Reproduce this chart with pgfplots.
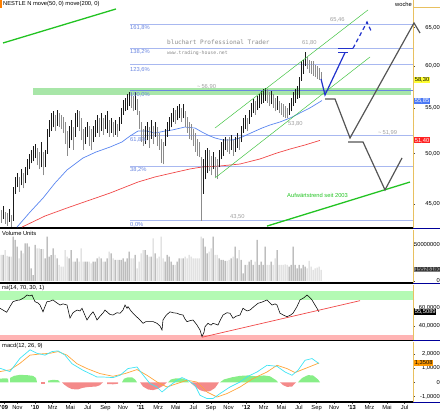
\documentclass[border=0pt]{standalone}
\usepackage{fontspec}
\setmainfont{Liberation Sans}
\newfontfamily\monofont{DejaVu Sans Mono}
\usepackage{pgfplots}
\usepackage{pgfplotstable}
\pgfplotsset{compat=1.18}
\definecolor{fibline}{HTML}{A8B8F0}
\definecolor{fibmain}{HTML}{6A86E0}
\definecolor{fibtext}{HTML}{6A86E0}
\definecolor{bandgreen}{HTML}{A8E6A8}
\definecolor{ma50}{HTML}{5A86F0}
\definecolor{ma200}{HTML}{F04848}
\definecolor{trendgreen}{HTML}{22C322}
\definecolor{chan}{HTML}{44C444}
\definecolor{fcblue}{HTML}{2233CC}
\definecolor{fcgray}{HTML}{555555}
\definecolor{annot}{HTML}{A0A0A0}
\definecolor{axyellow}{HTML}{E8C060}
\definecolor{barblack}{HTML}{1A1A1A}
\definecolor{bargray}{HTML}{8C8C8C}
\definecolor{voldark}{HTML}{9A9A9A}
\definecolor{vollight}{HTML}{D2D2D2}
\definecolor{rsigreen}{HTML}{B4FAB4}
\definecolor{rsired}{HTML}{FFB4B4}
\definecolor{macdcyan}{HTML}{40E4F4}
\definecolor{macdorange}{HTML}{FFA53A}
\definecolor{histgreen}{HTML}{88EE88}
\definecolor{histred}{HTML}{F48A8A}
\definecolor{tagyellow}{HTML}{FFFF33}
\definecolor{tagblue}{HTML}{4A78F5}
\definecolor{tagred}{HTML}{FF2222}
\definecolor{tagorange}{HTML}{FF9900}
\newcommand{\fs}{\fontsize{5.8}{6.5}\selectfont}

\pgfplotstableread{
x l h v c
1 43.3 44.5 36.1 0
3 43.6 44.8 36.1 1
5 43.2 44.3 43.0 0
7 43.0 44.2 35.0 0
9 43.4 44.6 33.8 1
11 42.9 44.0 33.8 0
13 43.5 46.6 61.6 1
15 46.0 47.6 57.0 1
17 46.6 48.0 47.7 1
19 46.2 47.6 31.5 0
21 46.8 48.4 42.0 1
23 46.5 48.0 38.4 0
25 47.0 48.6 52.3 1
27 47.8 49.4 52.3 1
29 48.4 50.0 47.7 1
31 49.0 50.4 17.6 1
33 49.2 50.8 8.3 1
35 49.5 51.0 50.0 1
37 48.8 50.6 45.4 0
39 48.4 50.2 45.4 0
41 48.6 51.2 44.4 1
43 47.8 50.2 44.4 0
45 48.6 50.4 31.5 1
47 50.0 52.6 61.6 1
49 51.8 53.6 33.8 1
51 52.4 54.4 36.0 1
53 52.8 54.6 45.4 1
55 52.4 54.2 36.1 0
57 53.0 54.8 31.5 1
59 52.8 54.4 22.2 0
61 52.6 54.2 19.9 0
63 52.2 54.0 19.9 0
65 51.0 53.4 43.0 0
67 49.8 52.4 33.8 0
69 50.6 53.0 31.5 1
71 51.4 53.6 43.0 1
73 50.4 52.8 26.9 0
75 51.8 54.4 26.9 1
77 52.8 54.8 31.5 1
79 52.4 54.6 26.9 0
81 51.4 53.8 45.4 0
83 50.4 52.6 26.9 0
85 51.0 52.8 26.9 1
87 51.8 53.4 26.9 1
89 50.8 53.0 26.9 0
91 50.4 52.6 24.5 0
93 51.2 53.0 26.9 1
95 51.8 53.6 26.9 1
97 52.2 54.2 31.5 1
99 51.8 53.8 33.8 0
101 52.4 54.4 31.5 1
103 52.0 53.8 26.9 0
105 52.6 54.2 26.9 1
107 52.2 54.6 31.5 1
109 51.8 53.6 40.7 0
111 52.2 53.8 38.4 1
113 51.8 53.4 31.5 0
115 52.0 53.6 29.2 1
117 51.8 53.2 29.2 0
119 52.4 54.0 29.2 1
121 53.2 55.0 29.2 1
123 54.2 55.9 31.5 1
125 54.6 56.2 26.9 1
127 54.8 56.6 31.5 1
129 55.2 56.9 40.7 1
131 55.0 56.7 31.5 0
133 54.6 56.4 31.5 0
135 54.8 56.8 36.1 1
137 54.2 56.0 17.6 0
139 52.6 54.6 26.9 0
141 51.2 53.4 38.4 0
143 50.8 52.6 43.0 0
145 51.0 53.0 43.0 1
147 51.4 53.4 36.1 1
149 50.6 52.8 33.8 0
151 51.6 53.6 33.8 1
153 51.0 53.0 59.3 0
155 51.8 53.4 38.4 1
157 50.8 52.8 31.5 0
159 50.4 52.2 33.8 0
161 49.0 51.6 61.6 0
163 48.9 51.2 31.5 0
165 50.8 52.6 26.9 1
167 51.8 53.4 36.1 1
169 52.4 54.0 33.8 1
171 52.8 54.4 26.9 1
173 53.4 55.0 22.2 1
175 53.2 54.8 22.2 0
177 53.6 55.2 26.9 1
179 53.8 55.4 31.5 1
181 53.4 55.0 31.5 0
183 53.8 55.4 31.5 1
185 52.8 54.6 33.8 0
187 52.2 54.0 31.5 0
189 51.6 53.4 36.1 0
191 51.4 53.2 33.8 0
193 50.8 52.6 31.5 0
195 50.2 52.2 31.5 0
197 49.8 51.6 31.5 0
199 49.6 51.2 31.5 0
201 43.5 49.6 61.6 0
203 46.0 49.4 59.3 1
205 47.4 50.4 47.7 1
207 48.0 50.6 38.4 1
209 48.2 50.4 40.7 0
211 47.8 49.8 45.4 0
213 48.4 50.2 61.6 1
215 47.6 49.6 36.1 0
217 47.4 49.4 36.1 0
219 48.6 50.4 31.5 1
221 49.4 51.2 29.2 1
223 49.8 51.6 29.2 1
225 50.4 51.8 27.8 1
227 50.2 51.6 27.8 0
229 50.0 51.8 29.2 0
231 50.4 52.0 31.5 1
233 49.8 51.4 33.8 0
235 50.2 51.8 47.7 1
237 50.6 52.2 31.5 1
239 50.4 51.8 43.0 0
241 51.2 53.0 29.2 1
243 52.2 53.8 10.6 1
245 52.6 54.2 22.2 1
247 52.4 53.8 22.2 0
249 53.2 54.8 26.9 1
251 54.0 55.6 29.2 1
253 54.4 56.0 22.2 1
255 54.2 55.8 26.9 0
257 54.8 56.4 57.0 1
259 55.0 56.6 22.2 1
261 55.4 57.0 26.9 1
263 55.6 57.2 22.2 1
265 55.8 57.3 47.7 1
267 55.6 57.2 22.2 0
269 55.2 56.8 22.2 0
271 55.4 57.0 26.9 1
273 55.0 56.6 22.2 0
275 54.6 56.2 31.5 0
277 54.8 56.4 43.0 1
279 54.4 55.8 22.2 0
281 54.2 55.6 22.2 0
283 54.0 55.4 22.2 0
285 53.9 55.2 23.1 0
287 53.8 55.0 22.2 0
289 54.2 55.6 19.9 1
291 54.6 56.2 22.2 1
293 55.2 56.8 47.7 1
295 55.6 57.2 22.2 1
297 56.0 57.6 17.6 1
299 56.2 58.6 22.2 1
301 58.2 60.6 17.6 1
303 59.0 60.8 22.2 1
305 60.0 61.8 19.9 1
307 59.6 61.2 17.6 0
309 59.2 60.8 27.8 0
311 59.0 60.6 19.9 0
313 58.8 60.6 15.3 0
315 58.6 60.2 17.6 0
317 58.4 60.0 18.5 0
319 58.3 59.8 19.9 0
321 58.0 59.3 15.5 0
}\pricetable

\begin{document}
\begin{tikzpicture}
\useasboundingbox (0,0) rectangle (440bp,411bp);
\pgfplotsset{panel/.style={
  anchor=south west, scale only axis, width=413bp, xmin=0, xmax=413,
  axis x line*=bottom, axis y line*=right,
  x axis line style={black, line width=1.2bp},
  y axis line style={axyellow, line width=0.8bp},
  xtick=\empty, clip=false,
  tick align=outside, major tick length=2bp, minor tick length=1.2bp,
  every tick/.style={black!70, line width=0.4bp},
  yticklabel style={font=\fs, anchor=east, inner sep=0pt, xshift=25bp},
  scaled y ticks=false,
}}
\tikzset{lab/.style={font=\fs, inner sep=0pt, anchor=west}}

% ---------------- price panel ----------------
\begin{axis}[panel, at={(0bp,183bp)}, height=228bp, ymode=log, ymin=42.83, ymax=68.86,
  ytick={45,50,55,60,65}, yticklabels={{45,00},{50,00},{55,00},{60,00},{65,00}},
  minor ytick={44,46,47,48,49,51,52,53,54,56,57,58,59,61,62,63,64,66,67,68}]
\addplot[fill=bandgreen, draw=none] coordinates {(33,56.5) (411,56.5) (411,57.35) (33,57.35)};
\addplot[fibline, line width=0.7bp] coordinates {(130,65.46) (413,65.46)};
\addplot[fibline, line width=0.7bp] coordinates {(130,62.25) (413,62.25)};
\addplot[fibline, line width=0.7bp] coordinates {(130,60.27) (413,60.27)};
\addplot[fibmain, line width=0.7bp] coordinates {(130,57.07) (413,57.07)};
\addplot[fibline, line width=0.7bp] coordinates {(130,51.89) (413,51.89)};
\addplot[fibline, line width=0.7bp] coordinates {(130,48.68) (413,48.68)};
\addplot[fibline, line width=0.7bp] coordinates {(130,43.50) (413,43.50)};
\addplot[ma50, line width=0.7bp] coordinates {(17,42.91) (30,44.27) (43,45.58) (55,47.03) (67,48.33) (83,49.55) (96,50.17) (110,50.69) (122,51.23) (130,51.87) (138,52.41) (147,52.41) (155,52.19) (165,52.41) (172,52.52) (185,52.85) (195,52.74) (202,52.30) (210,51.87) (215,51.66) (223,51.44) (232,51.44) (240,51.66) (253,52.30) (262,52.74) (270,53.07) (280,53.41) (290,53.85) (300,54.42) (310,55.0) (318,55.56) (322,55.85)};
\addplot[ma200, line width=0.7bp] coordinates {(22,42.91) (45,43.91) (67,44.65) (90,45.40) (110,46.06) (138,47.13) (155,47.63) (172,48.02) (190,48.43) (202,48.63) (220,48.73) (240,48.93) (260,49.45) (277,50.07) (290,50.48) (305,50.91) (320,51.40)};
% weekly high-low bars, one plot per row of the table
\pgfplotsforeachungrouped \i in {0,...,160}{%
  \pgfplotstablegetelem{\i}{x}\of\pricetable\let\bx\pgfplotsretval
  \pgfplotstablegetelem{\i}{l}\of\pricetable\let\bl\pgfplotsretval
  \pgfplotstablegetelem{\i}{h}\of\pricetable\let\bh\pgfplotsretval
  \pgfplotstablegetelem{\i}{c}\of\pricetable\let\bc\pgfplotsretval
  \ifnum\bc=1 \def\bcol{barblack}\else\def\bcol{bargray}\fi
  \edef\doplot{\noexpand\addplot[\bcol, line width=0.8bp, forget plot] coordinates {(\bx,\bl) (\bx,\bh)};}%
  \doplot
}
\addplot[trendgreen, line width=1.3bp] coordinates {(3,62.96) (116,67.58)};
\addplot[chan, line width=0.5bp] coordinates {(215,52.74) (368,67.45)};
\addplot[chan, line width=0.5bp] coordinates {(215,47.53) (370,61.15)};
\addplot[trendgreen, line width=1.3bp] coordinates {(267,43.0) (410,47.13)};
\addplot[fcblue, line width=1.2bp] coordinates {(321,58.42) (325,56.50) (345,61.71)};
\addplot[fcblue, line width=1.2bp] coordinates {(338,62.27) (353,62.27)};
\addplot[fcblue, line width=1.2bp] coordinates {(338,61.71) (348,61.71)};
\addplot[fcblue, line width=1.2bp, dash pattern=on 4bp off 3bp] coordinates {(353,62.27) (367,65.77) (372,64.29)};
\addplot[fcgray, line width=1.2bp] coordinates {(325,56.03) (335,56.03) (350,51.66) (414,65.64) (420,64.29)};
\addplot[fcgray, line width=1.2bp] coordinates {(348,51.23) (363,51.23) (385,46.36) (402,49.55)};
\addplot[fill=orange, draw=none] coordinates {(0,68.86) (2,68.86) (2,67.72) (0,67.72)};
\node[lab] at (axis cs:3,68.29) {NESTLE N move(50, 0) move(200, 0)};
\node[lab] at (axis cs:395,68.29) {woche};
\node[lab, text=fibtext] at (axis cs:130,64.96) {161,8\%};
\node[lab, text=fibtext] at (axis cs:130,61.77) {138,2\%};
\node[lab, text=fibtext] at (axis cs:130,59.57) {123,6\%};
\node[lab, text=fibtext] at (axis cs:130,56.50) {100,0\%};
\node[lab, text=fibtext] at (axis cs:130,51.44) {61,8\%};
\node[lab, text=fibtext] at (axis cs:130,48.29) {38,2\%};
\node[lab, text=fibtext] at (axis cs:130,43.10) {0,0\%};
\node[lab, text=annot] at (axis cs:197,57.46) {\textasciitilde\,56,90};
\node[lab, text=annot] at (axis cs:330,66.05) {65,46};
\node[lab, text=annot] at (axis cs:302,63.0) {61,80};
\node[lab, text=annot] at (axis cs:288,53.2) {53,80};
\node[lab, text=annot] at (axis cs:378,52.16) {\textasciitilde\,51,99};
\node[lab, text=annot] at (axis cs:230,43.8) {43,50};
\node[inner sep=0pt, anchor=west, text=black!45, font=\monofont\fontsize{6.1}{7}\selectfont] at (axis cs:167,63.0) {bluchart Professional Trader};
\node[inner sep=0pt, anchor=west, text=black!45, font=\monofont\fontsize{4.8}{5.5}\selectfont] at (axis cs:167,61.7) {www.trading-house.net};
\node[lab, text=trendgreen] at (axis cs:287,45.88) {Aufwärtstrend seit 2003};
\node[lab, fill=tagyellow, inner sep=0.6bp] at (axis cs:414,58.30) {58,30};
\node[lab, fill=tagblue, text=white, inner sep=0.6bp] at (axis cs:414,55.85) {55,85};
\node[lab, fill=tagred, text=white, inner sep=0.6bp] at (axis cs:414,51.40) {51,40};
\end{axis}

% ---------------- volume panel ----------------
\begin{axis}[panel, at={(0bp,128bp)}, height=53bp, ymin=-2.8, ymax=70.8,
  ytick={0,50}, yticklabels={0,50000000}, minor ytick={10,20,30,40,60}]
\addplot[ybar, bar width=1bp, bar shift=0pt, fill=vollight, draw=none,
  restrict expr to domain={\thisrow{c}}{-0.5:0.5}] table[x=x, y=v] {\pricetable};
\addplot[ybar, bar width=1bp, bar shift=0pt, fill=voldark, draw=none,
  restrict expr to domain={\thisrow{c}}{0.5:1.5}] table[x=x, y=v] {\pricetable};
\node[lab] at (axis cs:2,66.5) {Volume Units};
\node[lab, fill=black!50, inner sep=0.6bp] at (axis cs:414,15.5) {15526180};
\end{axis}

% ---------------- RSI panel ----------------
\begin{axis}[panel, at={(0bp,71bp)}, height=55bp, ymin=24.2, ymax=86.3,
  ytick={40,60}, yticklabels={{40,0000},{60,0000}}, minor ytick={30,50,70,80}]
\addplot[fill=rsigreen, draw=none] coordinates {(0,69.5) (413,69.5) (413,79) (0,79)};
\addplot[fill=rsired, draw=none] coordinates {(0,24.2) (413,24.2) (413,29.8) (0,29.8)};
\addplot[black, line width=0.55bp] coordinates {(0,60) (3,58) (6.7,55.5) (10,62) (13,67.5) (17,69) (20,69.4) (24,72) (27,75) (30,74) (32,75) (35,67.5) (38,66) (40,63.7) (43,56) (45,62) (47,67.5) (50,68) (53,69.4) (57,66) (60,63.7) (63,65) (67,63.7) (70,49) (73,55) (77,58) (80,57) (82,60) (85,52) (87,46.8) (90,52) (93,56) (95,52) (97,46.8) (100,51) (103,54.7) (105,58) (107,56) (110,53) (113,52.4) (117,55) (120,54.4) (123,58) (125,63.7) (127,60) (128,61.8) (131,57) (133,54.4) (137,50) (140,46.8) (143,43) (146,45) (150,44.9) (153,45) (157,43) (160,40) (162,35.5) (163,46.8) (166,52) (170,56) (173,55) (177,54.4) (180,53) (183,52.4) (185,48) (187,44.9) (190,46) (193,46.8) (195,44) (197,41) (200,35.5) (202,28) (204,33) (205,39.2) (208,43) (211,41) (213,43) (216,42) (218,41) (220,46) (223,52.4) (227,55) (230,54.4) (233,48.7) (236,51) (240,52.4) (243,60) (247,57) (250,58) (254,62) (258,65.6) (262,67) (267,69.4) (270,66) (272,63.7) (275,65) (277,63.7) (280,54.4) (284,52) (287,50.5) (290,52) (293,54.4) (297,62) (300,69.4) (304,72) (307,75) (310,72) (312,69.4) (315,63.7) (317,60) (319,56)};
\addplot[ma200, line width=0.7bp] coordinates {(202,27.3) (360,68.6)};
\node[lab] at (axis cs:2,82.9) {rsi(14, 70, 30, 1)};
\node[lab, fill=black, text=white, inner sep=0.6bp] at (axis cs:414,55.5) {55,5089};
\end{axis}

% ---------------- MACD panel ----------------
\begin{axis}[panel, at={(0bp,9bp)}, height=60bp, ymin=-1.38, ymax=2.82,
  ytick={-1,0,1,2}, yticklabels={{-1,0000},0,{1,0000},{2,0000}}, minor ytick={-0.5,0.5,1.5,2.5},
  xtick={4,17.4,35,52.6,70.2,87.8,105.4,123,140.6,158.2,175.8,193.4,211,228.6,246.2,263.8,281.4,299,316.6,334.2,351.8,369.4,387,404.6},
  xticklabels={\textbf{'09},Nov,\textbf{'10},Mrz,Mai,Jul,Sep,Nov,\textbf{'11},Mrz,Mai,Jul,Sep,Nov,\textbf{'12},Mrz,Mai,Jul,Sep,Nov,\textbf{'13},Mrz,Mai,Jul},
  xticklabel style={font=\fs, anchor=north, inner sep=0pt, yshift=-1bp}]
\addplot[fill=histgreen, draw=none] coordinates {(0,0) (0,0.25) (4,0.28) (8,0.26) (8.5,0)};
\addplot[fill=histgreen, draw=none] coordinates {(10,0) (10,0.3) (14,0.45) (20,0.52) (27,0.5) (33,0.45) (36,0.3) (37,0)};
\addplot[fill=histred, draw=none] coordinates {(41,0) (41,-0.12) (45,-0.12) (45,0)};
\addplot[fill=histgreen, draw=none] coordinates {(48,0) (48,0.12) (53,0.17) (58,0.15) (60,0)};
\addplot[fill=histred, draw=none] coordinates {(62,0) (64,-0.15) (68,-0.35) (72,-0.48) (78,-0.5) (82,-0.4) (86,-0.35) (90,-0.32) (96,-0.3) (100,-0.2) (103,0)};
\addplot[fill=histred, draw=none] coordinates {(107,0) (107,-0.12) (113,-0.14) (118,-0.1) (118,0)};
\addplot[fill=histgreen, draw=none] coordinates {(122,0) (124,0.25) (128,0.35) (132,0.35) (135,0.2) (137,0)};
\addplot[fill=histred, draw=none] coordinates {(140,0) (143,-0.3) (148,-0.5) (153,-0.55) (158,-0.45) (163,-0.25) (167,0)};
\addplot[fill=histgreen, draw=none] coordinates {(168,0) (171,0.2) (176,0.28) (182,0.27) (187,0.15) (189,0)};
\addplot[fill=histred, draw=none] coordinates {(190,0) (195,-0.3) (200,-0.55) (205,-0.66) (210,-0.62) (215,-0.4) (219,0)};
\addplot[fill=histgreen, draw=none] coordinates {(220,0) (224,0.2) (232,0.35) (240,0.45) (248,0.48) (256,0.42) (264,0.48) (270,0.42) (276,0.15) (278,0)};
\addplot[fill=histred, draw=none] coordinates {(280,0) (283,-0.2) (287,-0.32) (292,-0.3) (296,0)};
\addplot[fill=histgreen, draw=none] coordinates {(298,0) (302,0.3) (308,0.5) (313,0.48) (318,0.2) (320,0)};
\addplot[macdorange, line width=0.7bp] coordinates {(0,0.75) (10,0.87) (20,1.33) (30,1.9) (40,1.98) (50,2.03) (58,2.15) (67,1.9) (77,1.3) (87,0.96) (100,0.61) (113,0.42) (125,0.61) (137,0.89) (147,0.49) (157,0.02) (167,-0.33) (177,-0.09) (187,0.14) (197,0.02) (207,-0.68) (217,-1.03) (227,-0.79) (240,-0.33) (253,0.26) (267,0.72) (277,1.19) (287,0.96) (295,0.68) (305,0.96) (319,1.35)};
\addplot[macdcyan, line width=0.7bp] coordinates {(0,0.98) (10,0.75) (20,1.68) (30,2.27) (37,2.03) (45,1.9) (52,2.15) (58,2.2) (65,1.9) (72,1.3) (83,0.84) (97,0.37) (103,0.37) (113,0.33) (120,0.49) (128,0.96) (137,1.07) (142,0.61) (150,-0.09) (157,-0.33) (162,-0.68) (168,-0.33) (177,0.14) (182,0.33) (188,0.14) (195,-0.21) (200,-0.91) (207,-1.14) (213,-1.14) (220,-0.79) (230,-0.33) (240,0.02) (248,0.42) (257,0.72) (267,1.19) (277,1.12) (285,0.72) (292,0.49) (298,0.84) (305,1.54) (312,1.66) (319,1.31)};
\node[lab] at (axis cs:2,2.54) {macd(12, 26, 9)};
\node[lab, fill=tagorange, inner sep=0.6bp] at (axis cs:414,1.35) {1,3508};
\end{axis}

\draw[axyellow, line width=0.8bp] (413bp,404bp) -- (440bp,404bp);
\draw[blue!60!black, line width=0.8bp] (413bp,182.5bp) -- (440bp,182.5bp);
\draw[blue!60!black, line width=0.8bp] (413bp,127.5bp) -- (440bp,127.5bp);
\draw[blue!60!black, line width=0.8bp] (413bp,70.5bp) -- (440bp,70.5bp);
\draw[blue!60!black, line width=0.8bp] (413bp,8.5bp) -- (440bp,8.5bp);
\end{tikzpicture}
\end{document}
